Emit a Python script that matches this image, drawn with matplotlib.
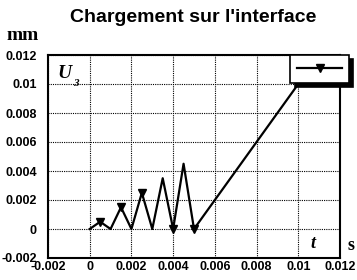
import matplotlib
matplotlib.use("Agg")
import matplotlib.pyplot as plt
from matplotlib.lines import Line2D

t = [0, 0.0005, 0.001, 0.0015, 0.002, 0.0025, 0.003, 0.0035, 0.004, 0.0045, 0.005, 0.01]
u3 = [0, 0.0005, 0, 0.0015, 0, 0.0025, 0, 0.0035, 0, 0.0045, 0, 0.01]
marker_idx = [1, 3, 5, 8, 10]
xticks = [-0.002, 0, 0.002, 0.004, 0.006, 0.008, 0.01, 0.012]
xtick_labels = ["-0.002", "0", "0.002", "0.004", "0.006", "0.008", "0.01", "0.012"]
yticks = [-0.002, 0, 0.002, 0.004, 0.006, 0.008, 0.01, 0.012]
ytick_labels = ["-0.002", "0", "0.002", "0.004", "0.006", "0.008", "0.01", "0.012"]

fig = plt.figure(figsize=(3.57, 2.80), dpi=100)
ax = fig.add_axes([48/357, 1-258/280, (340-48)/357, (258-55)/280])

ax.plot(t, u3, color="black", lw=1.6, marker="v", markersize=6,
        markevery=marker_idx, markerfacecolor="black", markeredgecolor="black")

ax.set_xlim(-0.002, 0.012)
ax.set_ylim(-0.002, 0.012)
ax.set_xticks(xticks)
ax.set_xticklabels(xtick_labels)
ax.set_yticks(yticks)
ax.set_yticklabels(ytick_labels)
ax.tick_params(length=0, labelsize=9)
ax.tick_params(axis="y", pad=8)
ax.tick_params(axis="x", pad=2)
for lab in ax.get_xticklabels() + ax.get_yticklabels():
    lab.set_fontweight("bold")
    lab.set_family("Liberation Sans")
ax.grid(True, color="black", linestyle=(0, (1, 1)), linewidth=0.8)
for sp in ax.spines.values():
    sp.set_linewidth(1.5)

fig.text(57/357, 1-73/280, "U", fontsize=14, fontweight="bold", fontstyle="italic",
         family="Liberation Serif", ha="left", va="center")
fig.text(73/357, 1-84/280, "3", fontsize=8, fontweight="bold", fontstyle="italic",
         family="Liberation Serif", ha="left", va="center")
fig.text(313/357, 1-243/280, "t", fontsize=13, fontweight="bold",
         fontstyle="italic", family="Liberation Serif", ha="center", va="center")
fig.text(351/357, 1-245/280, "s", fontsize=13, fontweight="bold",
         family="Liberation Serif", ha="center", va="center")
fig.text(23/357, 1-35/280, "mm", fontsize=14, fontweight="bold",
         family="Liberation Serif", ha="center", va="center")
fig.text(193/357, 1-17/280, "Chargement sur l'interface", fontsize=14,
         fontweight="bold", family="Liberation Sans", ha="center", va="center")

h = Line2D([], [], color="black", lw=1.6, marker="v", markersize=6)
leg = ax.legend(handles=[h], labels=[""], loc="upper right",
                bbox_to_anchor=(1.03, 1.0), frameon=True, fancybox=False,
                shadow={"color": "black", "alpha": 1.0, "ox": 3, "oy": -3},
                edgecolor="black",
                framealpha=1.0, handlelength=3.2, handletextpad=0.0,
                borderpad=0.5, borderaxespad=0.0)
leg.get_frame().set_linewidth(1.2)

fig.savefig("out.png", dpi=100)
